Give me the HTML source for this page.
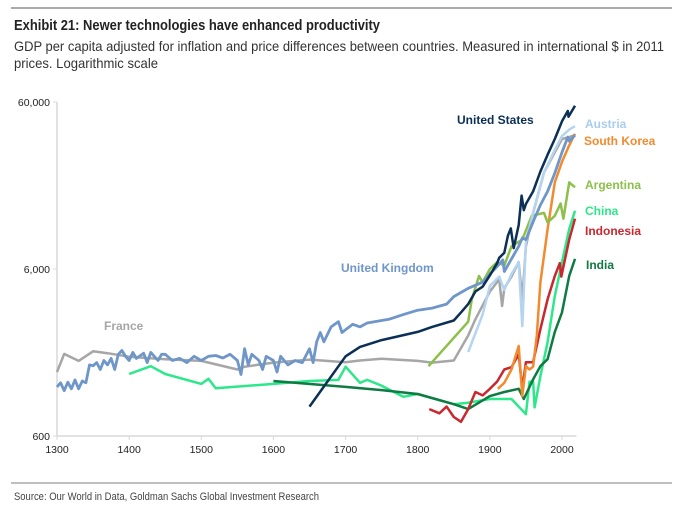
<!DOCTYPE html>
<html><head><meta charset="utf-8">
<style>
body{margin:0;background:#fff;width:690px;height:507px;overflow:hidden;font-family:"Liberation Sans",sans-serif;}
</style></head>
<body>
<svg id="chart" width="690" height="507" viewBox="0 0 690 507" xmlns="http://www.w3.org/2000/svg">
<line x1="11" y1="8" x2="672" y2="8" stroke="#777" stroke-width="1.2"/>
<text x="14" y="30" font-size="15" font-weight="bold" fill="#222" textLength="366" lengthAdjust="spacingAndGlyphs">Exhibit 21: Newer technologies have enhanced productivity</text>
<text x="14" y="51" font-size="14" fill="#333" textLength="650" lengthAdjust="spacingAndGlyphs">GDP per capita adjusted for inflation and price differences between countries. Measured in international $ in 2011</text>
<text x="14" y="68" font-size="14" fill="#333" textLength="144" lengthAdjust="spacingAndGlyphs">prices. Logarithmic scale</text>
<g id="axes"></g>
<g id="series"></g>
<g id="labels" font-size="12" font-weight="bold">
<text x="457" y="124" fill="#0b2f55">United States</text>
<text x="585" y="128" fill="#a9cdee">Austria</text>
<text x="584" y="145" fill="#f28a2e">South Korea</text>
<text x="585" y="189" fill="#8cc04a">Argentina</text>
<text x="585" y="215" fill="#2de88a">China</text>
<text x="585" y="235" fill="#c8282e">Indonesia</text>
<text x="586" y="269" fill="#0f7a43">India</text>
<text x="341" y="272" fill="#6e96c8">United Kingdom</text>
<text x="104" y="330" fill="#a6a6a6">France</text>
</g>
<line x1="11" y1="483" x2="672" y2="483" stroke="#aaa" stroke-width="1.5"/>
<text x="14" y="500" font-size="11" fill="#444" textLength="305" lengthAdjust="spacingAndGlyphs">Source: Our World in Data, Goldman Sachs Global Investment Research</text>
</svg>
<script>
const xTicks=[1300,1400,1500,1600,1700,1800,1900,2000];
const yTicks=[600,6000,60000];
const yTickLabels=["600","6,000","60,000"];
const franceYears=[1300,1310,1330,1350,1370,1400,1450,1500,1550,1560,1600,1650,1700,1720,1750,1800,1820,1850,1870,1880,1900,1913,1917,1920,1930,1940,1945,1950,1960,1975,1990,2000,2010,2018];
const franceVals=[1450,1860,1690,1930,1880,1790,1730,1690,1500,1560,1650,1720,1660,1700,1740,1690,1650,1700,2400,3000,4400,5200,3600,4600,5400,6600,3950,8200,13000,22700,30000,36000,37000,38000];
const ukYears=[1300,1305,1310,1315,1320,1325,1330,1335,1340,1345,1350,1355,1360,1365,1370,1375,1380,1385,1390,1395,1400,1405,1410,1420,1425,1430,1440,1445,1450,1460,1470,1480,1490,1500,1510,1520,1530,1540,1550,1555,1560,1565,1570,1580,1585,1590,1600,1605,1610,1620,1630,1640,1650,1655,1660,1665,1670,1680,1690,1695,1700,1710,1720,1730,1740,1750,1760,1780,1800,1820,1840,1850,1870,1890,1900,1913,1918,1920,1930,1940,1945,1950,1960,1970,1980,1990,2000,2008,2010,2018];
const ukVals=[1180,1250,1120,1260,1150,1300,1150,1280,1250,1600,1580,1650,1500,1700,1600,1750,1500,1850,1950,1800,1700,1900,1750,1880,1650,1900,1700,1850,1850,1700,1750,1650,1800,1700,1800,1820,1760,1850,1700,1400,2000,1600,1850,1700,1500,1800,1700,1450,1800,1600,1700,1650,2000,1650,2200,2500,2200,2700,2900,2500,2600,2800,2700,2850,2900,2950,3000,3200,3400,3500,3700,4100,4600,5000,5600,6400,6800,5800,6900,8200,9200,9000,11500,14500,17500,22500,30000,37000,35000,38000];
const usYears=[1650,1700,1720,1750,1800,1820,1850,1860,1870,1880,1890,1900,1910,1913,1920,1925,1929,1933,1940,1944,1947,1950,1960,1970,1980,1990,2000,2008,2009,2018];
const usVals=[900,1800,2050,2250,2520,2700,2950,3300,3700,4400,4700,5500,6500,7000,7500,9500,10500,8000,11000,16500,13500,14700,17500,23000,29000,36000,46000,53000,49000,57000];
const austriaYears=[1870,1890,1900,1913,1920,1930,1940,1945,1950,1960,1975,1990,2000,2010,2018];
const austriaVals=[1910,3200,4750,5400,4500,5600,6600,2730,8700,13000,22700,31000,37500,41000,43000];
const koreaYears=[1911,1920,1930,1940,1945,1950,1955,1960,1965,1970,1980,1990,2000,2010,2018];
const koreaVals=[1150,1250,1500,2075,1040,1570,1500,1560,2400,5000,10400,19800,26300,33000,38700];
const argYears=[1815,1870,1875,1885,1890,1900,1910,1920,1930,1945,1958,1975,1980,1990,1998,2002,2010,2018];
const argVals=[1570,2900,3950,5450,5000,6000,6600,6300,8200,9000,12500,13000,11400,12500,14800,12000,19800,18500];
const chinaYears=[1400,1430,1450,1500,1510,1520,1600,1650,1690,1700,1720,1730,1750,1780,1800,1850,1870,1900,1930,1950,1955,1960,1962,1970,1980,1990,2000,2010,2018];
const chinaVals=[1410,1570,1410,1230,1320,1160,1230,1280,1300,1560,1250,1300,1200,1030,1070,930,950,1000,1000,810,1265,1280,890,1370,2190,4130,6600,10400,13400];
const indoYears=[1816,1830,1840,1850,1860,1870,1880,1890,1900,1910,1920,1930,1940,1945,1950,1960,1970,1980,1990,1997,1999,2010,2018];
const indoVals=[870,820,900,780,730,870,1100,1050,1150,1270,1500,1550,1850,1150,1660,1660,2620,3950,5450,6500,5400,9000,12000];
const indiaYears=[1600,1700,1750,1800,1850,1870,1900,1920,1940,1947,1960,1970,1980,1990,2000,2010,2018];
const indiaVals=[1280,1180,1130,1070,930,870,1040,1100,1150,1000,1310,1570,1730,2520,3300,5450,6900];

const X0=57,X1=562,Y600=436,PX_DEC=167;
function xScale(yr){return X0+(yr-1300)*(X1-X0)/700;}
function yScale(v){return Y600-(Math.log10(v)-Math.log10(600))*PX_DEC;}
const NS="http://www.w3.org/2000/svg";
const axes=document.getElementById('axes');
function mk(tag,attrs,parent){const e=document.createElementNS(NS,tag);for(const k in attrs)e.setAttribute(k,attrs[k]);parent.appendChild(e);return e;}
let yl=mk('line',{x1:X0,y1:yScale(60000),x2:X0,y2:Y600,stroke:'#d9d9d9','stroke-width':1.5},axes);


let xl=mk('line',{x1:X0,y1:Y600,x2:xScale(2020),y2:Y600,stroke:'#d9d9d9','stroke-width':1.5},axes);


xTicks.forEach(t=>{
  const tk=mk('line',{x1:xScale(t),y1:Y600,x2:xScale(t),y2:Y600+4,stroke:'#d9d9d9','stroke-width':1},axes);
  
  
  const tx=mk('text',{x:xScale(t),y:Y600+17,'font-size':10.5,'text-anchor':'middle',fill:'#222'},axes);
  tx.textContent=t;
  
  
});
yTicks.forEach((t,i)=>{
  const tk=mk('line',{x1:X0-4,y1:yScale(t),x2:X0,y2:yScale(t),stroke:'#d9d9d9','stroke-width':1},axes);
  
  
  const tx=mk('text',{x:X0-7,y:yScale(t)+4,'font-size':10.5,'text-anchor':'end',fill:'#222'},axes);
  tx.textContent=yTickLabels[i];
  
  
});
const sg=document.getElementById('series');
function draw(name,years,vals,color,w){
  const d=years.map((y,i)=>(i?'L':'M')+xScale(y).toFixed(1)+','+yScale(vals[i]).toFixed(1)).join(' ');
  const p=mk('path',{d:d,fill:'none',stroke:color,'stroke-width':w,'stroke-linejoin':'round'},sg);
  
  
}
draw('line-france',franceYears,franceVals,'#a6a6a6',2.5);
draw('line-china',chinaYears,chinaVals,'#2de88a',2.5);
draw('line-india',indiaYears,indiaVals,'#0f7a43',2.5);
draw('line-indonesia',indoYears,indoVals,'#c8282e',2.5);
draw('line-south-korea',koreaYears,koreaVals,'#f28a2e',2.5);
draw('line-argentina',argYears,argVals,'#8cc04a',2.5);
draw('line-austria',austriaYears,austriaVals,'#b4d4f0',2.5);
draw('line-united-kingdom',ukYears,ukVals,'#6e96c8',2.8);
draw('line-united-states',usYears,usVals,'#0b2f55',2.5);
</script>
</body></html>
